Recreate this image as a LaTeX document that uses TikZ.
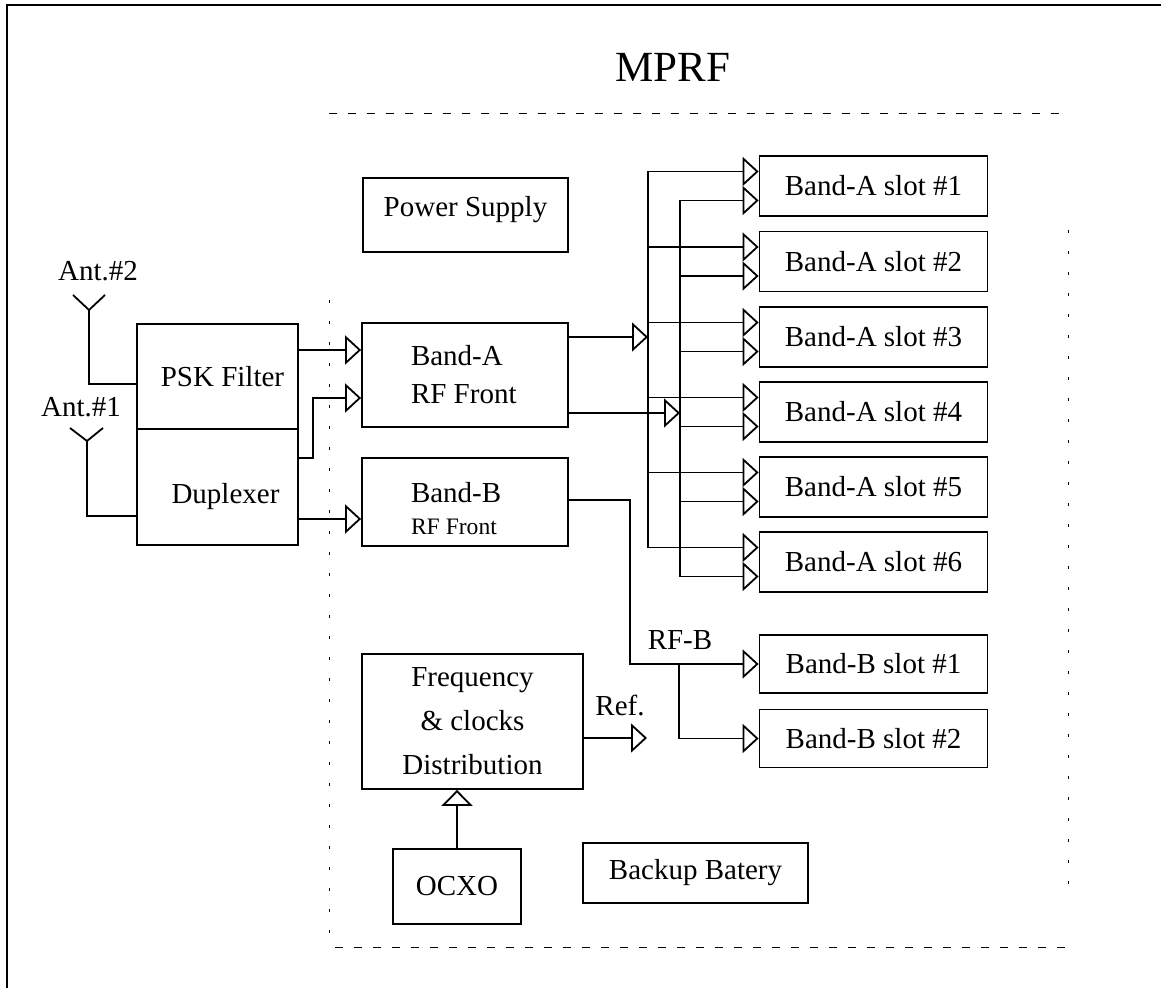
\documentclass[tikz,border=0pt]{standalone}
\usepackage{fontspec}
\setmainfont{Liberation Serif}
\usetikzlibrary{arrows.meta}
\begin{document}
\begin{tikzpicture}[x=0.5pt,y=-0.5pt,
  box/.style={draw, line width=0.9pt, inner sep=0pt, font=\fontsize{14.5}{17}\selectfont},
  lbl/.style={font=\fontsize{14.5}{17}\selectfont, inner sep=0pt},
  arr/.style={line width=0.9pt, -{Triangle[open,length=8pt,width=14.5pt]}},
  wire/.style={line width=0.9pt},
  slot/.style={box, minimum width=114pt, minimum height=30pt},
  dsh/.style={line width=0.5pt, dash pattern=on 4pt off 5.5pt},
  dsparse/.style={line width=0.5pt, dash pattern=on 1.5pt off 9pt}]

\useasboundingbox (0,0) rectangle (1161,988);
\draw[line width=1.2pt] (7,988) -- (7,5) -- (1161,5);

\node[lbl, font=\fontsize{21.5}{24}\selectfont] (title) at (673,67) {MPRF};

% dashed enclosure
\draw[dsh] (329,114) -- (1068,114);
\draw[dsh] (335,947) -- (1068,947);
\draw[dsparse] (329,300) -- (329,935);
\draw[dsparse] (1068,230) -- (1068,885);

% blocks
\node[box, minimum width=102.5pt, minimum height=37pt, text height=10pt, text depth=8.5pt] (ps) at (465.5,215) {Power Supply};
\node[box, minimum width=80.5pt, minimum height=52.5pt] (psk) at (217.5,376.5) {\hspace*{5pt}PSK Filter};
\node[box, minimum width=80.5pt, minimum height=58pt] (dup) at (217.5,487) {\hspace*{8pt}\rule{0pt}{20pt}Duplexer};
\node[box, minimum width=103pt, minimum height=52pt, text width=54pt, align=flush left, inner xsep=24.5pt, font=\fontsize{14.5}{19}\selectfont] (ba) at (465,375) {Band-A\\RF Front};
\node[box, minimum width=103pt, minimum height=44pt, text width=54pt, align=flush left, inner xsep=24.5pt, font=\fontsize{14.5}{16}\selectfont] (bfb) at (465,502) {\rule{0pt}{17pt}Band-B\\{\fontsize{11.8}{14}\selectfont RF Front}};

\foreach \n/\y in {1/186,2/261.5,3/337,4/412,5/487,6/562}
  \node[slot] (a\n) at (873.5,\y) {Band-A slot \#\n};
\node[slot, minimum height=29pt] (b1) at (873.5,664) {Band-B slot \#1};
\node[slot, minimum height=29pt] (b2) at (873.5,738.5) {Band-B slot \#2};

\node[box, minimum width=110.5pt, minimum height=67.5pt, align=center, font=\fontsize{14.5}{22}\selectfont] (fq) at (472.5,721.5) {Frequency\\\& clocks\\Distribution};
\node[box, minimum width=64pt, minimum height=37.5pt] (ocxo) at (457,886.5) {OCXO};
\node[box, minimum width=112.5pt, minimum height=30pt] (bat) at (695.5,873) {Backup Batery};

% antennas
\coordinate (ant2c) at (89,310);
\draw[wire] (73,295) -- (ant2c) -- (105,295);
\draw[wire] (ant2c) |- (psk.west |- 0,384);
\node[lbl] (ant2) at (98,271) {Ant.\#2};
\coordinate (ant1c) at (87,441);
\draw[wire] (70,428) -- (ant1c) -- (103,428);
\draw[wire] (ant1c) |- (dup.west |- 0,516);
\node[lbl] (ant1) at (81,407) {Ant.\#1};

% front-end connections
\draw[arr] (psk.east |- 0,350) -- (ba.west |- 0,350);
\draw[arr] (dup.east |- 0,458) -| (313,398) -- (ba.west |- 0,398);
\draw[arr] (dup.east |- 0,519) -- (bfb.west |- 0,519);

% band-A buses
\coordinate (bus1t) at (648,171.5);
\coordinate (bus1b) at (648,547.5);
\coordinate (bus2t) at (680,200.5);
\coordinate (bus2b) at (680,576.5);
\draw[wire] (bus1t) -- (bus1b);
\draw[wire] (bus2t) -- (bus2b);
\draw[arr] (ba.east |- 0,337) -- (bus1t |- 0,337);
\draw[arr] (ba.east |- 0,413) -- (bus2t |- 0,413);
\foreach \n/\y in {1/186,2/261.5,3/337,4/412,5/487,6/562}{
  \draw[arr] (648,\y-14.5) -- (a\n.west |- 0,\y-14.5);
  \draw[arr] (680,\y+14.5) -- (a\n.west |- 0,\y+14.5);
}

% band-B
\draw[arr] (bfb.east |- 0,500) -| (630,664) -- (b1.west |- 0,664);
\coordinate (rfb) at (679,664);
\draw[arr] (rfb) |- (b2.west |- 0,738.5);
\node[lbl] (rfbl) at (680,640) {RF-B};

% reference
\draw[arr] (fq.east |- 0,738) -- (647,738);
\node[lbl] (ref) at (620,705) {Ref.};
\draw[line width=0.9pt, -{Triangle[open,length=8pt,width=15.5pt]}] (ocxo.north) -- (ocxo.north |- fq.south);
\end{tikzpicture}
\end{document}
